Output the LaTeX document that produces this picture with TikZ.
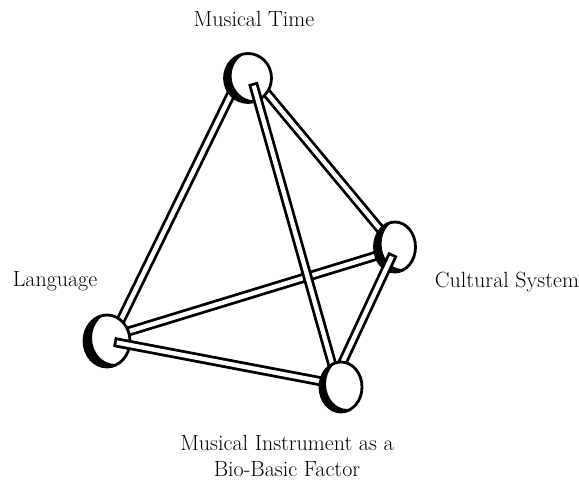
\documentclass[tikz,border=0pt]{standalone}
\usetikzlibrary{calc}
\newcommand\myball[6]{% name, rx, ry, dx, dy, outline width
  \fill[white] (#1) ellipse [x radius=#2pt, y radius=#3pt];
  \begin{scope}
    \clip (#1) ellipse [x radius=#2pt, y radius=#3pt];
    \fill[black, even odd rule] (#1) ellipse [x radius=#2pt, y radius=#3pt]
      ($(#1)+(#4,#5)$) ellipse [x radius=#2pt, y radius=#3pt];
  \end{scope}
  \draw[line width=#6pt] (#1) ellipse [x radius=#2pt, y radius=#3pt];
}
\begin{document}
\begin{tikzpicture}[x=1pt,y=-1pt,
  rod/.style={line width=10pt, draw=black,
    postaction={draw=white, line width=4.4pt, shorten <=2.8pt, shorten >=2.8pt}},
  lbl/.style={font=\fontsize{22}{26}\selectfont, inner sep=0pt, anchor=base, align=center}]
\useasboundingbox (0,0) rectangle (579,481);

% ball centres
\coordinate (T) at (248,78);
\coordinate (R) at (395,247);
\coordinate (L) at (107,341);
\coordinate (B) at (341,387);

% rod end points
\coordinate (TLa) at (236,84);  \coordinate (TLb) at (112,338);
\coordinate (TRa) at (256,80);  \coordinate (TRb) at (395,247);
\coordinate (LRa) at (107,338); \coordinate (LRb) at (395,250);
\coordinate (TBa) at (253,83);  \coordinate (TBb) at (338,385);
\coordinate (RBa) at (393,254); \coordinate (RBb) at (332,385);
\coordinate (LBa) at (114,342); \coordinate (LBb) at (335,384);

% rods behind the balls
\draw[rod] (TLa) -- (TLb);
\draw[rod] (TRa) -- (TRb);
\draw[rod] (LRa) -- (LRb);

% back balls
\myball{T}{23.5}{24.5}{7}{-2}{2.8}
\myball{R}{20.5}{25}{7}{-3}{2.8}
\myball{L}{23}{26}{8}{-3}{2.8}

% rods in front
\draw[rod] (TBa) -- (TBb);
\draw[rod] (RBa) -- (RBb);
\draw[rod] (LBa) -- (LBb);

% front ball
\myball{B}{21}{25}{6}{-3}{2.8}

% labels
\node[lbl] (lt) at (254,27) {Musical Time};
\node[lbl] (ll) at (55,287) {Language};
\node[lbl] (lr) at (507,288) {Cultural System};
\node[lbl] (lb) at (287,476) {Musical Instrument as a\\Bio-Basic Factor};
\end{tikzpicture}
\end{document}
